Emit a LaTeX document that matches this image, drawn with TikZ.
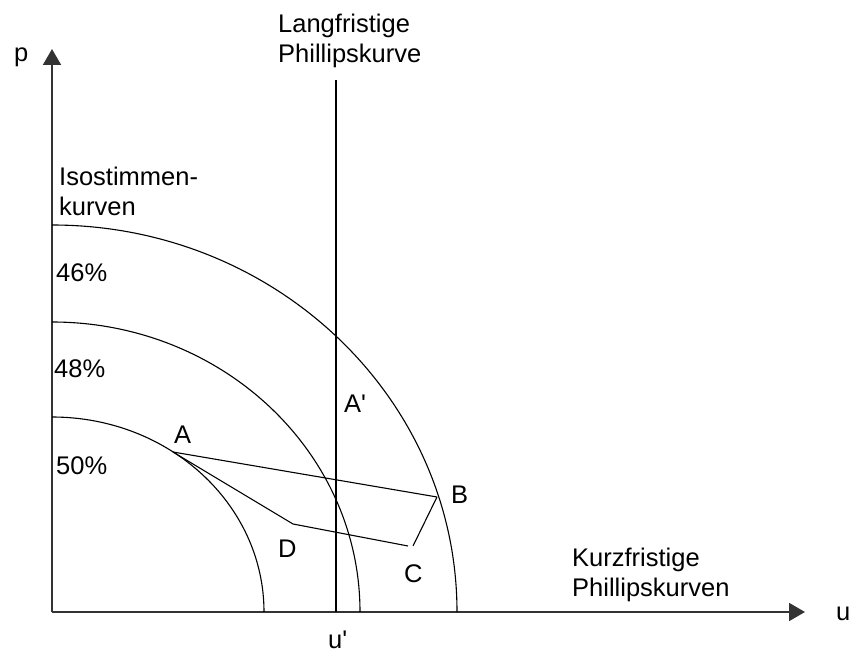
\documentclass[tikz,border=0pt]{standalone}
\usepackage{fontspec}
\setmainfont{Liberation Sans}
\usetikzlibrary{arrows.meta}

\begin{document}
\begin{tikzpicture}[
  x=1pt, y=1pt,
  axis/.style={line width=1.8pt, draw=black!80, -{Triangle[length=16pt, width=18pt]}},
  curve/.style={line width=1.1pt, black},
  lbl/.style={inner sep=0pt, font=\fontsize{25.5}{30}\selectfont},
  mlbl/.style={lbl, align=left, anchor=north west}
]
  \useasboundingbox (0,0) rectangle (849,654);

  % === AXES ===
  \coordinate (O) at (52,42);
  \coordinate (ytip) at (52,605);
  \coordinate (xtip) at (805,42);
  \draw[axis] (O) -- (ytip);
  \draw[axis] (O) -- (xtip);
  \node[lbl, anchor=base west] (p) at (14,592) {p};
  \node[lbl, anchor=base west] (u) at (836,34) {u};

  % Long-run Phillips curve
  \coordinate (lrTop) at (336,574);
  \coordinate (lrBot) at (336,42);
  \draw[line width=1.4pt] (lrBot) -- (lrTop);
  \node[mlbl] (lr) at (278,640) {Langfristige\\Phillipskurve};
  \node[lbl, anchor=base west] (ustar) at (328,6) {u\textquotesingle};

  % === ISOSTIMMENKURVEN ===
  \coordinate (i46) at (52,429);
  \coordinate (i48) at (52,332);
  \coordinate (i50) at (52,237);
  \draw[curve] (i46) arc[start angle=90, end angle=0, x radius=405, y radius=387];
  \draw[curve] (i48) arc[start angle=90, end angle=0, x radius=308, y radius=290];
  \draw[curve] (i50) arc[start angle=90, end angle=0, x radius=212, y radius=195];
  \node[mlbl] (iso) at (59,487) {Isostimmen-\\kurven};
  \node[lbl, anchor=base west] (l46) at (56,372) {46\%};
  \node[lbl, anchor=base west] (l48) at (54,276) {48\%};
  \node[lbl, anchor=base west] (l50) at (56,179) {50\%};

  % === SHORT-RUN PATHS ===
  \coordinate (A) at (173,202);
  \coordinate (B) at (437,157);
  \coordinate (K) at (293,130);
  \coordinate (C1) at (408,108);
  \coordinate (C2) at (413,108);
  \draw[curve] (A) -- (B);
  \draw[curve] (A) -- (K) -- (C1);
  \draw[curve] (C2) -- (B);

  \node[lbl, anchor=base west] (lA) at (174,211) {A};
  \node[lbl, anchor=base west] (lA2) at (344,241) {A\textquotesingle};
  \node[lbl, anchor=base west] (lB) at (451,151) {B};
  \node[lbl, anchor=base west] (lC) at (404,72) {C};
  \node[lbl, anchor=base west] (lD) at (278,97) {D};
  \node[mlbl] (kf) at (572,106) {Kurzfristige\\Phillipskurven};
\end{tikzpicture}
\end{document}
